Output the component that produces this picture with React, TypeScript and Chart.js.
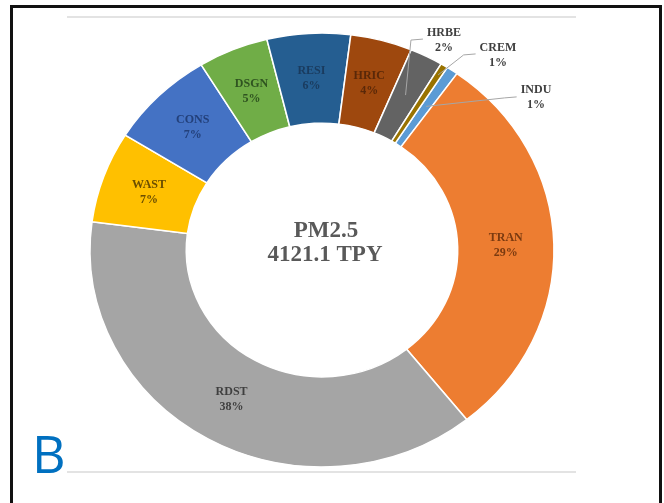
import React, { useEffect, useRef } from "react";
import { Chart, registerables } from "chart.js";

Chart.register(...registerables);

// Source categories, in drawing order (clockwise), and their share of total PM2.5 (%)
const categories = ["INDU", "TRAN", "RDST", "WAST", "CONS", "DSGN", "RESI", "HRIC", "HRBE", "CREM"];
const shares = [0.8, 29.4, 37.8, 6.8, 7.4, 4.9, 5.8, 4.3, 2.3, 0.5];
const sliceColors = ["#5B9BD5", "#ED7D31", "#A5A5A5", "#FFC000", "#4472C4", "#70AD47", "#255E91", "#9E480E", "#636363", "#997300"];
const labelColors = ["#404040", "#7A3A10", "#3F3F3F", "#6B4E00", "#23407A", "#2F5320", "#1A3B5E", "#5A2808", "#404040", "#404040"];
const centerLines = ["PM2.5", "4121.1 TPY"];
const panelLetter = "B";

// Callout (outside) labels: position relative to centre in units of outer radius, and anchor radius fraction
const calloutPos: Record<string, [number, number]> = {
  INDU: [0.951, -0.676],
  HRBE: [0.542, -0.933],
  CREM: [0.782, -0.867],
};
const calloutAnchor: Record<string, number> = { INDU: 0.8, HRBE: 0.8, CREM: 0.95 };

// the source picture is slightly wider than tall
const stretchX = 1.031;
const stretchY = 0.964;

const labelFont = "bold 12px 'Liberation Serif', 'Times New Roman', serif";

const overlayPlugin = {
  id: "overlay",
  beforeDatasetsDraw(chart: any) {
    const ctx = chart.ctx as CanvasRenderingContext2D;
    const arcs = chart.getDatasetMeta(0).data as any[];
    if (!arcs.length) return;
    const cx = arcs[0].x;
    const cy = arcs[0].y;
    ctx.save();
    ctx.translate(cx, cy);
    ctx.scale(stretchX, stretchY);
    ctx.translate(-cx, -cy);
  },
  afterDatasetsDraw(chart: any) {
    chart.ctx.restore();
  },
  afterDraw(chart: any) {
    const ctx = chart.ctx as CanvasRenderingContext2D;
    const meta = chart.getDatasetMeta(0);
    const arcs = meta.data as any[];
    if (!arcs.length) return;
    const cx = arcs[0].x;
    const cy = arcs[0].y;
    const outerR = arcs[0].outerRadius;
    const innerR = arcs[0].innerRadius;
    const pt = (a: number, r: number) => [cx + Math.cos(a) * r * stretchX, cy + Math.sin(a) * r * stretchY];

    ctx.save();
    ctx.font = labelFont;
    ctx.textAlign = "center";
    ctx.textBaseline = "middle";
    arcs.forEach((arc, i) => {
      const cat = categories[i];
      const pct = `${Math.round(shares[i])}%`;
      const mid = (arc.startAngle + arc.endAngle) / 2;
      if (calloutPos[cat]) {
        const [fx, fy] = calloutPos[cat];
        const lx = cx + fx * outerR;
        const ly = cy + fy * outerR;
        ctx.font = labelFont;
        const w = Math.max(ctx.measureText(cat).width, ctx.measureText(pct).width);
        const endX = lx - w / 2 - 4;
        const endY = ly - 1;
        const [ax, ay] = pt(mid, calloutAnchor[cat] * outerR);
        ctx.strokeStyle = "#A6A6A6";
        ctx.lineWidth = 1;
        ctx.beginPath();
        ctx.moveTo(ax, ay);
        ctx.lineTo(endX - 12, endY + 1);
        ctx.lineTo(endX, endY);
        ctx.stroke();
        ctx.fillStyle = labelColors[i];
        ctx.fillText(cat, lx, ly - 7.5);
        ctx.fillText(pct, lx, ly + 7.5);
      } else {
        const [x, y] = pt(mid, (innerR + outerR) / 2);
        ctx.fillStyle = labelColors[i];
        ctx.fillText(cat, x, y - 7.5);
        ctx.fillText(pct, x, y + 7.5);
      }
    });

    // centre text
    ctx.fillStyle = "#595959";
    ctx.font = "bold 23px 'Liberation Serif', 'Times New Roman', serif";
    ctx.fillText(centerLines[0], cx + 4, cy - 19);
    ctx.fillText(centerLines[1], cx + 3, cy + 5);

    // picture frame lines
    ctx.strokeStyle = "#E3E3E3";
    ctx.lineWidth = 2;
    ctx.beginPath();
    ctx.moveTo(67, 17);
    ctx.lineTo(576, 17);
    ctx.moveTo(67, 472);
    ctx.lineTo(576, 472);
    ctx.stroke();

    // panel letter
    ctx.fillStyle = "#0070C0";
    ctx.font = "52px 'Open Sans', 'Noto Sans', sans-serif";
    ctx.textAlign = "left";
    ctx.textBaseline = "alphabetic";
    ctx.fillText(panelLetter, 32, 473);
    ctx.restore();
  },
};

export default function App() {
  const canvasRef = useRef<HTMLCanvasElement | null>(null);

  useEffect(() => {
    document.body.style.margin = "0";
    const canvas = canvasRef.current;
    if (!canvas) return;
    const chart = new Chart(canvas, {
      type: "doughnut",
      data: {
        labels: categories,
        datasets: [
          {
            data: shares,
            backgroundColor: sliceColors,
            borderColor: "#FFFFFF",
            borderWidth: 1.5,
            hoverOffset: 0,
          },
        ],
      },
      options: {
        responsive: false,
        animation: false,
        rotation: 32.7,
        cutout: "58.5%",
        radius: 225,
        layout: { padding: { left: 0, right: 20, top: 0, bottom: 3 } },
        plugins: {
          legend: { display: false },
          tooltip: { enabled: false },
        },
      },
      plugins: [overlayPlugin],
    });
    return () => chart.destroy();
  }, []);

  return (
    <div style={{ position: "relative", width: 664, height: 503, overflow: "hidden", background: "#FFFFFF" }}>
      <canvas ref={canvasRef} width={664} height={503} style={{ position: "absolute", left: 0, top: 0 }} />
      <div
        style={{
          position: "absolute",
          left: 10,
          top: 5,
          width: 646,
          height: 540,
          borderLeft: "3px solid #111",
          borderTop: "3px solid #111",
          borderRight: "3px solid #111",
          pointerEvents: "none",
        }}
      />
    </div>
  );
}
